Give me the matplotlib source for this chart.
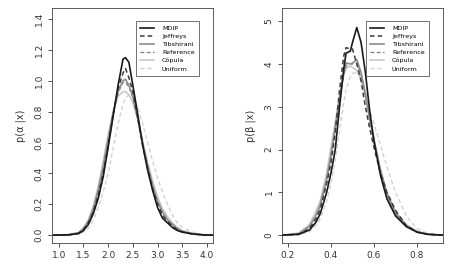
import numpy as np
import matplotlib.pyplot as plt

# posterior densities
labels = ["MDIP", "Jeffreys", "Tibshirani", "Reference", "Cópula", "Uniform"]

alpha_x = [0.9, 1.2, 1.4, 1.5, 1.6, 1.7, 1.8, 1.9, 2.0, 2.1, 2.2, 2.3, 2.35, 2.42,
           2.5, 2.6, 2.7, 2.8, 2.9, 3.0, 3.1, 3.2, 3.3, 3.4, 3.5, 3.7, 3.9, 4.12]
alpha_y = {
    "MDIP":       [0, 0.002, 0.01, 0.03, 0.07, 0.14, 0.24, 0.38, 0.57, 0.77, 0.97, 1.14, 1.15, 1.12,
                   0.97, 0.78, 0.58, 0.42, 0.29, 0.18, 0.11, 0.08, 0.05, 0.03, 0.02, 0.008, 0.002, 0],
    "Jeffreys":   [0, 0.002, 0.012, 0.035, 0.08, 0.15, 0.26, 0.40, 0.58, 0.78, 0.95, 1.05, 1.08, 1.02,
                   0.93, 0.76, 0.58, 0.43, 0.30, 0.20, 0.13, 0.09, 0.06, 0.035, 0.02, 0.008, 0.002, 0],
    "Tibshirani": [0, 0.003, 0.015, 0.04, 0.09, 0.17, 0.29, 0.44, 0.62, 0.79, 0.93, 1.00, 1.01, 0.97,
                   0.90, 0.75, 0.59, 0.45, 0.32, 0.22, 0.15, 0.10, 0.07, 0.04, 0.025, 0.01, 0.003, 0],
    "Reference":  [0, 0.003, 0.014, 0.04, 0.09, 0.17, 0.29, 0.44, 0.62, 0.79, 0.92, 0.99, 0.99, 0.96,
                   0.89, 0.75, 0.59, 0.45, 0.32, 0.22, 0.15, 0.10, 0.07, 0.045, 0.025, 0.01, 0.003, 0],
    "Cópula":     [0, 0.004, 0.018, 0.05, 0.10, 0.19, 0.32, 0.48, 0.65, 0.80, 0.90, 0.93, 0.93, 0.91,
                   0.86, 0.75, 0.61, 0.47, 0.35, 0.25, 0.17, 0.12, 0.08, 0.05, 0.03, 0.012, 0.004, 0],
    "Uniform":    [0, 0.001, 0.006, 0.02, 0.045, 0.10, 0.18, 0.28, 0.40, 0.56, 0.72, 0.85, 0.89, 0.91,
                   0.90, 0.83, 0.72, 0.60, 0.48, 0.37, 0.28, 0.20, 0.13, 0.08, 0.05, 0.02, 0.006, 0],
}

beta_x = [0.17, 0.25, 0.30, 0.33, 0.35, 0.38, 0.40, 0.42, 0.44, 0.46, 0.47, 0.49, 0.50, 0.52,
          0.54, 0.56, 0.58, 0.60, 0.63, 0.66, 0.70, 0.75, 0.80, 0.85, 0.92]
beta_y = {
    "MDIP":       [0, 0.02, 0.12, 0.30, 0.50, 1.00, 1.45, 2.00, 3.00, 3.90, 4.25, 4.30, 4.50, 4.85,
                   4.50, 3.80, 2.90, 2.20, 1.40, 0.85, 0.45, 0.20, 0.07, 0.02, 0],
    "Jeffreys":   [0, 0.02, 0.15, 0.38, 0.60, 1.20, 1.70, 2.40, 3.40, 4.20, 4.38, 4.35, 4.35, 4.00,
                   3.60, 3.00, 2.50, 2.05, 1.45, 1.00, 0.58, 0.22, 0.07, 0.02, 0],
    "Tibshirani": [0, 0.03, 0.20, 0.45, 0.70, 1.30, 1.85, 2.50, 3.20, 3.80, 4.02, 4.00, 4.02, 4.10,
                   3.80, 3.30, 2.70, 2.20, 1.50, 0.95, 0.50, 0.22, 0.08, 0.02, 0],
    "Reference":  [0, 0.03, 0.20, 0.45, 0.70, 1.30, 1.85, 2.50, 3.15, 3.75, 3.95, 4.00, 4.00, 4.02,
                   3.75, 3.30, 2.72, 2.22, 1.52, 0.97, 0.52, 0.23, 0.08, 0.02, 0],
    "Cópula":     [0, 0.05, 0.25, 0.55, 0.80, 1.45, 2.05, 2.65, 3.25, 3.75, 3.90, 3.95, 3.92, 3.85,
                   3.65, 3.25, 2.75, 2.25, 1.55, 1.00, 0.55, 0.25, 0.09, 0.03, 0],
    "Uniform":    [0, 0.01, 0.08, 0.22, 0.38, 0.80, 1.20, 1.75, 2.45, 3.10, 3.40, 3.70, 3.78, 3.80,
                   3.65, 3.35, 2.95, 2.60, 2.10, 1.60, 1.00, 0.45, 0.15, 0.04, 0],
}

styles = {
    "MDIP":       dict(color="#1a1a1a", ls="-", lw=1.2),
    "Jeffreys":   dict(color="#3a3a3a", ls=(0, (3, 2)), lw=1.1),
    "Tibshirani": dict(color="#8c8c8c", ls="-", lw=1.2),
    "Reference":  dict(color="#7a7a7a", ls=(0, (3, 2)), lw=0.9),
    "Cópula":     dict(color="#c4c4c4", ls="-", lw=1.1),
    "Uniform":    dict(color="#d2d2d2", ls=(0, (3, 2)), lw=1.0),
}

fig = plt.figure(figsize=(4.51, 2.76), dpi=100)
ax1 = fig.add_axes([0.115, 0.12, 0.357, 0.85])
ax2 = fig.add_axes([0.625, 0.12, 0.357, 0.85])

def draw(ax, xs, ys, xlim, ylim, xticks, yticks, ylabel, yfmt):
    for name in labels[::-1]:
        ax.plot(xs, ys[name], label=name, **styles[name])
    ax.set_xlim(*xlim)
    ax.set_ylim(*ylim)
    ax.set_xticks(xticks)
    ax.set_yticks(yticks)
    ax.set_xticklabels([f"{t:.1f}" for t in xticks])
    ax.set_yticklabels([yfmt(t) for t in yticks], rotation=90, va="center")
    ax.tick_params(labelsize=6.5, colors="#333333", length=3, width=0.6, pad=3)
    for s in ax.spines.values():
        s.set_linewidth(0.6)
        s.set_color("#444444")
    ax.set_ylabel(ylabel, fontsize=7, color="#333333", labelpad=6)
    h, l = ax.get_legend_handles_labels()
    leg = ax.legend(h[::-1], l[::-1], loc="upper right", bbox_to_anchor=(0.935, 0.96),
                    fontsize=4.6, frameon=True, fancybox=False, handlelength=2.2,
                    handletextpad=1.2, labelspacing=0.42, borderpad=0.7)
    leg.get_frame().set_edgecolor("#333333")
    leg.get_frame().set_linewidth(0.6)

draw(ax1, alpha_x, alpha_y, (0.86, 4.12), (-0.05, 1.47),
     [1.0, 1.5, 2.0, 2.5, 3.0, 3.5, 4.0], [0.0, 0.2, 0.4, 0.6, 0.8, 1.0, 1.2, 1.4],
     "p(α |x)", lambda t: f"{t:.1f}")
draw(ax2, beta_x, beta_y, (0.172, 0.92), (-0.18, 5.3),
     [0.2, 0.4, 0.6, 0.8], [0, 1, 2, 3, 4, 5],
     "p(β |x)", lambda t: f"{t:d}")

fig.savefig("out.png", dpi=100)
